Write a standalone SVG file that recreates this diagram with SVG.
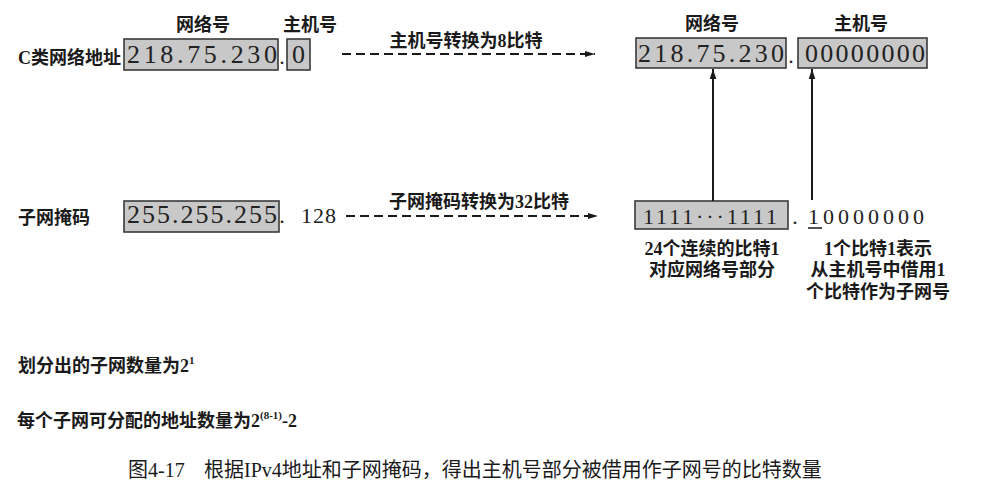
<svg xmlns="http://www.w3.org/2000/svg" width="1001" height="497" viewBox="0 0 1001 497">
<defs>
<style>
.bg{fill:#ffffff}
.box{fill:#c8c8c8;stroke:#3a3a3a;stroke-width:1.6}
.dig{font-family:"Liberation Serif","DejaVu Serif",serif;font-size:26px;fill:#222}
.ser{font-family:"Liberation Serif","DejaVu Serif",serif;font-size:22px;fill:#222}
.lbl{font-family:"Liberation Serif","Noto Sans CJK SC",sans-serif;font-size:18px;font-weight:600;fill:#1a1a1a}
.cap{font-family:"Liberation Serif","Noto Sans CJK SC",serif;font-size:20px;fill:#1a1a1a}
.dash{stroke:#1a1a1a;stroke-width:2;stroke-dasharray:9 5;fill:none}
.solid{stroke:#1a1a1a;stroke-width:2;fill:none}
</style>
<marker id="ahDash" markerWidth="10" markerHeight="8" refX="10" refY="4" orient="auto" markerUnits="userSpaceOnUse">
<path d="M0,1 L10,4 L0,7 Z" fill="#1a1a1a"/>
</marker>
<marker id="ahSolid" markerWidth="10" markerHeight="12" refX="12" refY="5" orient="auto" markerUnits="userSpaceOnUse" viewBox="0 0 12 10">
<path d="M0,1 L12,5 L0,9 Z" fill="#1a1a1a"/>
</marker>
</defs>
<rect class="bg" x="0" y="0" width="1001" height="497"/>

<g id="labels-top-left">
<text class="lbl" x="203" y="31" text-anchor="middle">网络号</text>
<text class="lbl" x="310" y="31" text-anchor="middle">主机号</text>
<text class="lbl" x="18" y="64">C类网络地址</text>
</g>

<g id="addr-net">
<rect class="box" x="124" y="39" width="154" height="31"/>
<text class="dig" x="127" y="63" textLength="150" lengthAdjust="spacing">218.75.230</text>
<text class="ser" x="282" y="64" text-anchor="middle">.</text>
</g>
<g id="addr-host">
<rect class="box" x="287" y="39" width="23" height="31"/>
<text class="dig" x="298.5" y="63" text-anchor="middle">0</text>
</g>

<g id="labels-top-right">
<text class="lbl" x="712" y="30" text-anchor="middle">网络号</text>
<text class="lbl" x="861" y="30" text-anchor="middle">主机号</text>
</g>

<g id="bin-net">
<rect class="box" x="636" y="38" width="150" height="30"/>
<text class="dig" x="638" y="62" textLength="146" lengthAdjust="spacing">218.75.230</text>
<text class="ser" x="791" y="63" text-anchor="middle">.</text>
</g>
<g id="bin-host">
<rect class="box" x="798" y="38" width="129" height="30"/>
<text class="dig" x="805" y="62" textLength="120" lengthAdjust="spacing">00000000</text>
</g>

<g id="mask-label">
<text class="lbl" x="18" y="224">子网掩码</text>
</g>
<g id="mask-dec">
<rect class="box" x="124" y="201" width="155" height="31"/>
<text class="dig" x="127" y="223" font-size="24" textLength="150" lengthAdjust="spacing">255.255.255</text>
<text class="ser" x="282" y="223" text-anchor="middle">.</text>
<text class="ser" x="301" y="223" letter-spacing="1">128</text>
</g>

<g id="mask-bin">
<rect class="box" x="635" y="201" width="153" height="28"/>
<text class="ser" x="643" y="224" textLength="134" lengthAdjust="spacing">1111···1111</text>
<text class="ser" x="795" y="224" text-anchor="middle">.</text>
<text class="ser" x="808" y="224" textLength="116" lengthAdjust="spacing">10000000</text>
<line x1="808" y1="228" x2="822" y2="228" stroke="#1a1a1a" stroke-width="1.5"/>
</g>

<g id="note-net">
<text class="lbl" x="712" y="255" text-anchor="middle">24个连续的比特1</text>
<text class="lbl" x="712" y="276" text-anchor="middle">对应网络号部分</text>
</g>
<g id="note-host">
<text class="lbl" x="878" y="255" text-anchor="middle">1个比特1表示</text>
<text class="lbl" x="878" y="276" text-anchor="middle">从主机号中借用1</text>
<text class="lbl" x="878" y="298" text-anchor="middle">个比特作为子网号</text>
</g>

<g id="connectors">
<line class="dash" x1="342" y1="54" x2="595" y2="54" marker-end="url(#ahDash)"/>
<text class="lbl" x="466" y="47" text-anchor="middle">主机号转换为8比特</text>
<line class="dash" x1="346" y1="216" x2="598" y2="216" marker-end="url(#ahDash)"/>
<text class="lbl" x="479" y="208" text-anchor="middle">子网掩码转换为32比特</text>
<line class="solid" x1="713" y1="201" x2="713" y2="69" marker-end="url(#ahSolid)"/>
<line class="solid" x1="812" y1="200" x2="812" y2="69" marker-end="url(#ahSolid)"/>
</g>

<g id="results">
<text class="lbl" x="18" y="372">划分出的子网数量为2<tspan font-size="11" dy="-8">1</tspan></text>
<text class="lbl" x="17" y="427">每个子网可分配的地址数量为2<tspan font-size="11" dy="-8">(8-1)</tspan><tspan dy="8">-2</tspan></text>
</g>

<g id="caption">
<text class="cap" x="128" y="477">图4-17</text>
<text class="cap" x="204" y="477">根据IPv4地址和子网掩码，得出主机号部分被借用作子网号的比特数量</text>
</g>
</svg>
